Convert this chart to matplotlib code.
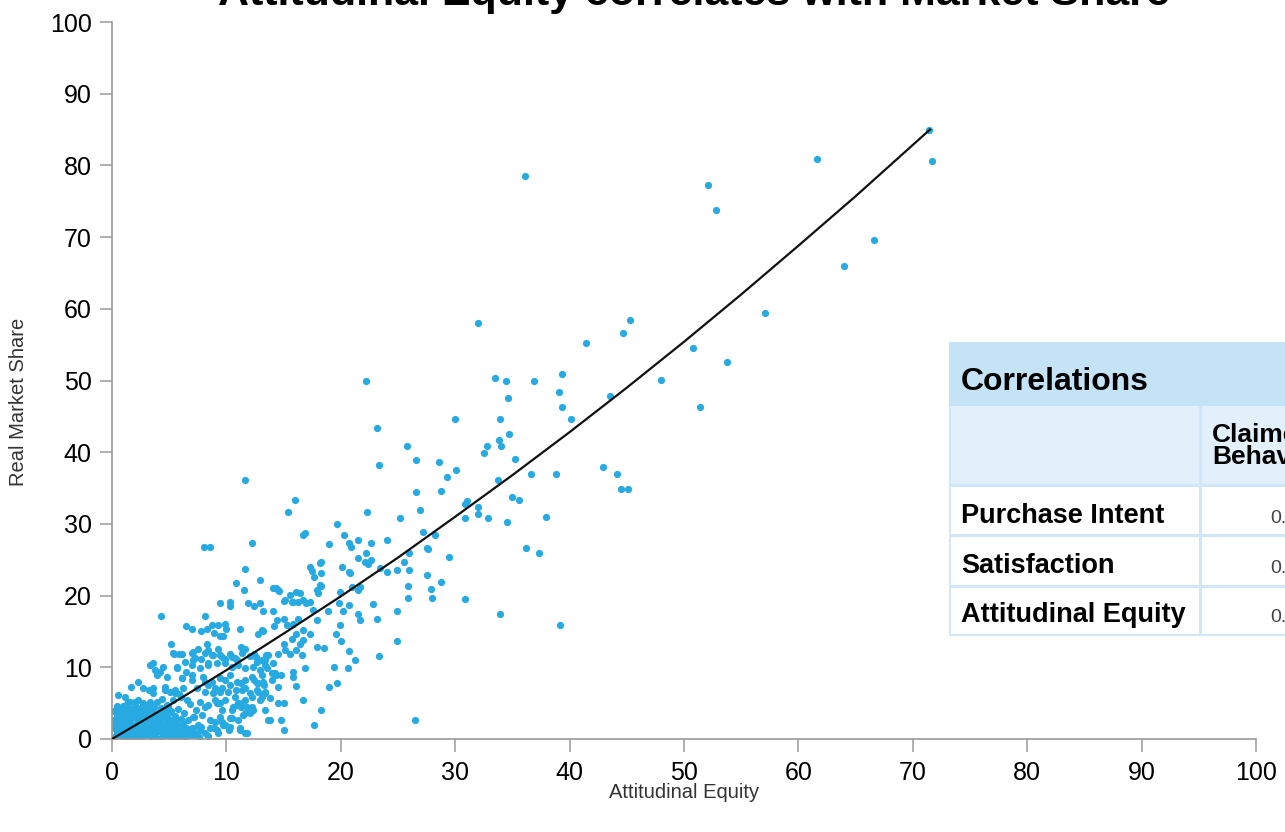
import matplotlib
matplotlib.use("Agg")
import matplotlib.pyplot as plt
from matplotlib.patches import Rectangle

plt.rcParams['font.family'] = ['Liberation Sans', 'DejaVu Sans']

# ---------------- data ----------------
high_equity = [71.4, 71.7, 61.6, 36.1, 52.1, 52.8, 66.6, 64.0, 57.1, 45.3,
               44.7, 32.0, 41.4, 50.8, 53.8, 39.3, 33.5, 34.4, 36.9, 22.2,
               48.0, 39.1, 34.6, 43.5, 39.3, 51.4, 40.1, 30.0, 33.9, 23.2,
               33.8, 34.7, 32.8, 34.0, 32.5, 25.8, 26.6, 28.6, 23.3, 35.2,
               36.6, 38.8, 42.9, 44.1, 44.5, 45.1, 30.1, 29.3, 33.7, 35.0,
               35.6, 31.0, 30.9, 28.8, 26.6, 32.0, 32.0, 32.9, 37.9, 30.9,
               34.5, 30.9, 33.9, 39.2, 36.2, 37.3, 26.5, 22.3, 26.9, 25.2,
               27.2, 28.2, 29.5, 27.5]
high_share = [84.9, 80.6, 80.9, 78.5, 77.3, 73.8, 69.6, 66.0, 59.4, 58.4,
              56.6, 58.0, 55.2, 54.5, 52.6, 50.9, 50.4, 49.9, 50.0, 49.9,
              50.1, 48.4, 47.6, 47.8, 46.3, 46.3, 44.7, 44.7, 44.6, 43.4,
              41.7, 42.5, 40.8, 40.8, 39.9, 40.8, 38.9, 38.7, 38.2, 39.0,
              36.9, 36.9, 37.9, 37.0, 34.9, 34.9, 37.5, 36.5, 36.1, 33.8,
              33.3, 33.2, 32.8, 34.6, 34.5, 32.4, 31.4, 30.8, 30.9, 30.8,
              30.2, 19.5, 17.5, 15.9, 26.7, 26.0, 2.6, 31.6, 32.0, 30.8,
              28.9, 28.4, 25.4, 26.6]

mid_equity = [16.0, 15.4, 11.6, 19.7, 16.7, 16.9, 20.3, 19.0, 20.7, 20.9,
              21.5, 22.6, 24.0, 26.0, 27.6, 22.2, 21.5, 18.3, 17.3, 22.1,
              22.6, 22.4, 25.5, 17.5, 17.7, 18.3, 17.9, 18.3, 20.1, 20.7,
              20.8, 18.2, 23.4, 24.0, 24.9, 26.0, 27.5, 28.8, 25.9, 27.9,
              25.9, 28.0, 24.9, 24.9, 23.3, 23.2, 22.8, 21.7, 21.5, 21.0,
              19.9, 20.7, 20.2, 19.8, 18.9, 21.5, 21.7, 19.9, 20.0, 19.6,
              20.7, 21.2, 20.6, 19.4, 19.0, 19.7, 18.5, 17.9, 18.3, 17.7,
              16.7, 16.1, 15.0, 14.8, 15.0, 13.8, 14.1, 14.5, 15.1, 15.6,
              15.8, 16.1, 16.4, 16.3, 16.7, 17.0, 13.2, 14.1, 14.4, 15.0,
              15.3, 14.2, 15.8, 16.3, 16.7, 16.1, 15.7, 15.0, 15.1, 14.5,
              15.6, 16.1, 16.6, 16.4, 16.7, 17.3, 17.9, 17.6, 17.3, 18.0,
              18.2, 13.2, 13.1, 13.4, 14.0, 14.3, 14.8, 15.8, 16.9, 15.8,
              13.3, 13.4, 13.1, 13.5, 8.0, 8.6, 12.2, 11.6, 12.9, 10.8,
              11.5, 14.3, 14.6, 15.0, 15.7, 9.4, 10.3, 10.3, 11.9, 12.4,
              12.9]
mid_share = [33.3, 31.6, 36.1, 30.0, 28.5, 28.7, 28.4, 27.2, 27.4, 26.8,
             27.8, 27.4, 27.8, 25.9, 26.5, 25.9, 25.3, 24.7, 24.0, 24.7,
             24.9, 24.4, 24.7, 23.5, 22.6, 23.1, 20.8, 21.3, 24.0, 23.3,
             23.1, 24.5, 23.8, 23.3, 23.6, 23.6, 22.9, 21.9, 21.3, 20.9,
             19.6, 19.6, 17.8, 13.7, 11.6, 16.8, 18.8, 21.2, 20.8, 21.2,
             20.5, 18.7, 17.8, 18.9, 17.8, 17.5, 16.6, 15.9, 13.6, 14.7,
             12.3, 11.0, 9.9, 10.1, 7.3, 7.8, 12.7, 12.8, 4.0, 2.0,
             5.5, 7.4, 5.0, 2.6, 1.3, 2.7, 21.0, 20.8, 19.4, 20.1,
             19.1, 20.5, 20.3, 19.1, 19.4, 18.9, 17.8, 17.8, 16.6, 16.8,
             15.9, 15.7, 16.1, 16.8, 15.2, 14.7, 14.0, 13.3, 12.4, 11.9,
             11.9, 12.4, 11.7, 13.3, 13.8, 14.7, 16.6, 18.0, 19.1, 20.3,
             21.5, 15.0, 11.0, 10.3, 9.2, 8.9, 8.9, 9.4, 9.9, 8.7,
             7.5, 6.6, 5.9, 11.7, 26.8, 26.8, 27.3, 23.7, 22.2, 21.7,
             20.8, 21.0, 20.7, 19.2, 19.1, 18.9, 19.1, 18.5, 19.0, 18.5,
             18.9]

low_equity = [4.3, 8.1, 6.5, 7.0, 8.7, 9.3, 9.9, 10.0, 7.8, 8.3,
              8.9, 9.4, 9.7, 11.2, 12.8, 13.1, 5.2, 5.4, 5.9, 6.4,
              7.1, 7.5, 8.3, 8.4, 9.3, 9.4, 7.1, 7.8, 8.4, 8.7,
              9.9, 10.5, 10.9, 11.3, 11.6, 12.4, 12.6, 3.3, 3.8, 4.2,
              5.7, 6.5, 7.0, 6.1, 2.3, 1.7, 2.7, 3.2, 3.6, 4.6,
              5.1, 5.5, 1.1, 2.3, 1.6, 8.1, 8.4, 9.0, 9.4, 9.9,
              10.3, 10.8, 11.3, 11.6, 12.4, 12.8, 13.1, 12.8, 12.2, 11.6,
              11.0, 9.0, 9.4, 9.6, 10.5, 10.9, 11.3, 11.6, 12.2, 10.5,
              9.4, 9.0, 9.7, 11.2, 8.9, 7.8, 7.1, 6.6, 7.3, 8.1,
              11.6, 9.3, 8.1, 7.4, 9.9, 10.2, 4.8, 5.3, 5.8, 6.3,
              6.0, 6.8, 7.2, 7.5, 5.9, 4.4, 0.5, 0.4, 1.2, 2.1]
low_share = [17.2, 17.2, 15.7, 15.3, 15.9, 15.9, 16.1, 15.4, 15.0, 15.3,
             14.8, 14.3, 14.3, 15.3, 14.7, 15.2, 13.3, 11.9, 11.9, 10.8,
             12.2, 12.6, 13.3, 12.4, 12.6, 11.7, 11.0, 11.2, 10.6, 11.7,
             11.2, 11.5, 11.0, 12.9, 12.6, 11.9, 11.5, 10.3, 9.6, 9.4,
             9.9, 9.4, 8.9, 8.5, 8.0, 7.3, 7.1, 6.8, 7.1, 6.8,
             6.6, 6.4, 5.9, 5.4, 5.2, 8.0, 7.5, 7.1, 6.6, 8.2,
             7.5, 6.8, 7.8, 7.1, 8.2, 7.8, 8.9, 6.6, 5.9, 5.4,
             5.0, 5.4, 5.0, 4.0, 4.0, 4.7, 4.5, 3.6, 4.5, 2.9,
             3.1, 2.4, 2.0, 1.3, 1.5, 1.7, 1.5, 2.7, 4.0, 4.5,
             0.8, 0.8, 0.8, 0.6, 2.0, 1.3, 4.8, 5.5, 4.2, 3.6,
             5.8, 4.9, 3.1, 1.9, 6.3, 5.6, 6.2, 4.6, 4.8, 4.4]

near_equity = [5.36, 6.09, 6.96, 7.26, 8.13, 8.86, 9.58, 10.31, 10.75, 11.33,
               12.06, 12.65, 13.37, 13.66, 14.10, 3.61, 4.49, 5.65, 6.96, 7.69,
               8.42, 9.15, 9.88, 10.46, 11.05, 11.63, 12.35, 12.94, 13.52, 14.25,
               3.90, 4.78, 6.09, 6.96, 7.98, 8.71, 9.44, 10.31, 10.90, 11.63,
               12.21, 12.65, 13.23, 13.96, 14.54, 3.61, 4.63, 5.51, 6.24, 7.40,
               8.13, 8.86, 9.58, 10.17, 10.75, 11.33, 12.06, 12.65, 13.37, 13.81,
               6.53, 7.69, 8.42, 9.15, 9.88, 10.61, 11.33, 11.77, 12.35, 12.94,
               13.37, 14.54, 7.11, 7.84, 8.57, 9.58, 10.31, 11.05, 11.48, 12.06,
               13.66, 9.88, 6.96, 7.69, 8.57, 9.15, 10.31, 11.19, 11.77]
near_share = [12.00, 11.90, 12.04, 11.25, 12.00, 11.72, 11.48, 11.90, 11.25, 12.00,
              11.57, 10.79, 11.02, 11.72, 10.55, 10.55, 10.09, 10.09, 10.32, 9.85,
              10.32, 10.55, 10.55, 10.09, 10.32, 9.85, 10.09, 9.62, 9.85, 9.16,
              8.93, 8.69, 8.46, 8.23, 8.69, 8.00, 8.46, 8.93, 8.00, 8.23,
              8.69, 7.77, 8.00, 8.23, 7.30, 6.37, 7.30, 6.84, 7.07, 7.07,
              6.61, 6.37, 7.07, 6.61, 5.91, 6.84, 6.37, 6.84, 6.37, 5.67,
              5.44, 5.21, 4.74, 4.97, 5.44, 4.51, 4.97, 4.51, 4.04, 5.44,
              4.04, 4.97, 3.11, 3.35, 2.65, 2.42, 2.88, 2.65, 3.35, 3.58,
              2.65, 1.95, 1.49, 1.26, 1.49, 1.26, 1.72, 1.49, 0.79]

core_equity = [0.2, 0.7, 1.1, 1.6, 2.0, 2.5, 2.9, 3.4, 3.8, 4.3, 4.7, 5.2, 5.6, 6.1, 6.5, 7.0, 7.6, 8.4,
               0.4, 0.8, 1.3, 1.7, 2.2, 2.6, 3.1, 3.5, 4.0, 4.4, 4.9, 5.3, 5.8, 6.2, 6.7, 7.2,
               0.2, 0.6, 1.1, 1.5, 2.0, 2.4, 2.9, 3.3, 3.8, 4.2, 4.7, 5.1, 5.6, 6.0, 6.5,
               0.3, 0.8, 1.2, 1.7, 2.1, 2.6, 3.0, 3.5, 3.9, 4.4, 4.8, 5.3, 5.7, 6.2,
               0.2, 0.6, 1.1, 1.5, 2.0, 2.4, 2.9, 3.3, 3.8, 4.2, 4.7, 5.1, 5.6, 6.0,
               0.4, 0.9, 1.3, 1.8, 2.2, 2.7, 3.1, 3.6, 4.0, 4.5, 4.9, 5.5,
               0.2, 0.7, 1.2, 1.6, 2.1, 2.5, 3.0, 3.5, 4.1, 4.6, 5.2,
               1.0, 1.5, 2.0, 2.6, 3.1, 3.7, 4.3, 4.9,
               1.4, 2.0, 2.7, 3.3, 3.9]
core_share = [0.3, 0.5, 0.2, 0.4, 0.3, 0.2, 0.5, 0.3, 0.4, 0.2, 0.5, 0.3, 0.2, 0.4, 0.3, 0.5, 0.3, 0.4,
              0.9, 1.0, 0.8, 1.1, 0.9, 0.8, 1.0, 0.9, 1.1, 0.8, 0.9, 1.0, 0.9, 0.8, 1.0, 0.9,
              1.5, 1.6, 1.4, 1.5, 1.7, 1.4, 1.6, 1.5, 1.4, 1.6, 1.5, 1.7, 1.4, 1.5, 1.6,
              2.1, 2.0, 2.2, 2.1, 1.9, 2.2, 2.0, 2.1, 2.3, 2.0, 2.1, 2.2, 2.0, 2.1,
              2.7, 2.8, 2.6, 2.7, 2.9, 2.6, 2.7, 2.8, 2.6, 2.7, 2.8, 2.6, 2.7, 2.8,
              3.3, 3.2, 3.4, 3.3, 3.5, 3.2, 3.3, 3.4, 3.2, 3.3, 3.5, 3.2,
              3.9, 4.0, 3.8, 3.9, 4.1, 3.8, 3.9, 4.0, 3.8, 4.1, 3.9,
              4.6, 4.3, 4.5, 4.4, 4.6, 4.5, 4.3, 4.6,
              5.2, 5.1, 5.0, 5.2, 5.1]

curve_equity = [0, 5, 10, 15, 20, 25, 30, 35, 40, 45, 50, 55, 60, 65, 71.5]
curve_share = [0, 4.7, 9.6, 14.7, 19.9, 25.3, 31.0, 36.8, 42.8, 49.0, 55.4, 62.0, 68.8, 75.7, 85.0]

x_ticks = [0, 10, 20, 30, 40, 50, 60, 70, 80, 90, 100]
y_ticks = [0, 10, 20, 30, 40, 50, 60, 70, 80, 90, 100]

title_text = "Attitudinal Equity correlates with Market Share"
x_label = "Attitudinal Equity"
y_label = "Real Market Share"

table_title = "Correlations"
table_header = ["Claimed", "Behaviour"]
table_rows = ["Purchase Intent", "Satisfaction", "Attitudinal Equity"]
table_values = ["0.", "0.", "0."]

# ---------------- figure ----------------
W, H = 1285, 832
fig = plt.figure(figsize=(W / 100, H / 100), dpi=100)
ax = fig.add_axes([112 / W, 93 / H, 1144 / W, 717 / H])

DOT = '#27a9e1'
for xs, ys in [(core_equity, core_share), (near_equity, near_share),
               (low_equity, low_share), (mid_equity, mid_share),
               (high_equity, high_share)]:
    ax.scatter(xs, ys, s=27, color=DOT, linewidths=0, zorder=2)

ax.plot(curve_equity, curve_share, color='#111111', lw=1.6, zorder=3)

ax.set_xlim(0, 100)
ax.set_ylim(0, 100)
ax.set_xticks(x_ticks)
ax.set_yticks(y_ticks)
ax.set_xticklabels([str(t) for t in x_ticks])
ax.set_yticklabels([str(t) for t in y_ticks])
for side in ['top', 'right']:
    ax.spines[side].set_visible(False)
for side in ['left', 'bottom']:
    ax.spines[side].set_color('#9a9a9a')
    ax.spines[side].set_linewidth(1.2)
ax.tick_params(axis='both', direction='out', length=9, width=1.1, color='#9a9a9a',
               labelsize=18, labelcolor='black')
ax.tick_params(axis='y', pad=5.5)
ax.tick_params(axis='x', pad=6.5)

fig.text(684 / W, 1 - 793 / H, x_label, ha='center', va='center', fontsize=14.5, color='#333333')
fig.text(19 / W, 1 - 402 / H, y_label, ha='center', va='center', rotation=90,
         fontsize=14.5, color='#333333')
fig.text(694 / W, 1 - 5 / H, title_text, ha='center', va='baseline',
         fontsize=31, fontweight='bold', color='black')

# ---------------- table (partly outside the figure) ----------------
def rect(x0, y0, x1, y1, color):
    r = Rectangle((x0 / W, 1 - y1 / H), (x1 - x0) / W, (y1 - y0) / H,
                  transform=fig.transFigure, facecolor=color, edgecolor='none',
                  zorder=5)
    fig.add_artist(r)

def ftext(x, y, s, **kw):
    fig.text(x / W, 1 - y / H, s, va='baseline', zorder=6, **kw)

RIGHT = 1400
rect(949, 342, RIGHT, 636, '#cfe7f8')
rect(949, 342, RIGHT, 406, '#c4e3f7')
rect(951, 406, 1199, 484, '#e2f0fb')
rect(1202, 406, RIGHT, 484, '#e2f0fb')
row_bounds = [(487, 534), (537, 585), (588, 634)]
for (y0, y1) in row_bounds:
    rect(951, y0, 1199, y1, 'white')
    rect(1202, y0, RIGHT, y1, 'white')

ftext(961, 390, table_title, fontsize=23, fontweight='bold', color='black')
ftext(1212, 442, table_header[0], fontsize=19, fontweight='bold', color='black')
ftext(1212, 464, table_header[1], fontsize=19, fontweight='bold', color='black')
baselines = [523, 573, 622]
for lab, val, yb in zip(table_rows, table_values, baselines):
    ftext(961, yb, lab, fontsize=19.5, fontweight='bold', color='black')
    ftext(1270, yb, val, fontsize=14, color='#444444')

fig.savefig('out.png', dpi=100)
